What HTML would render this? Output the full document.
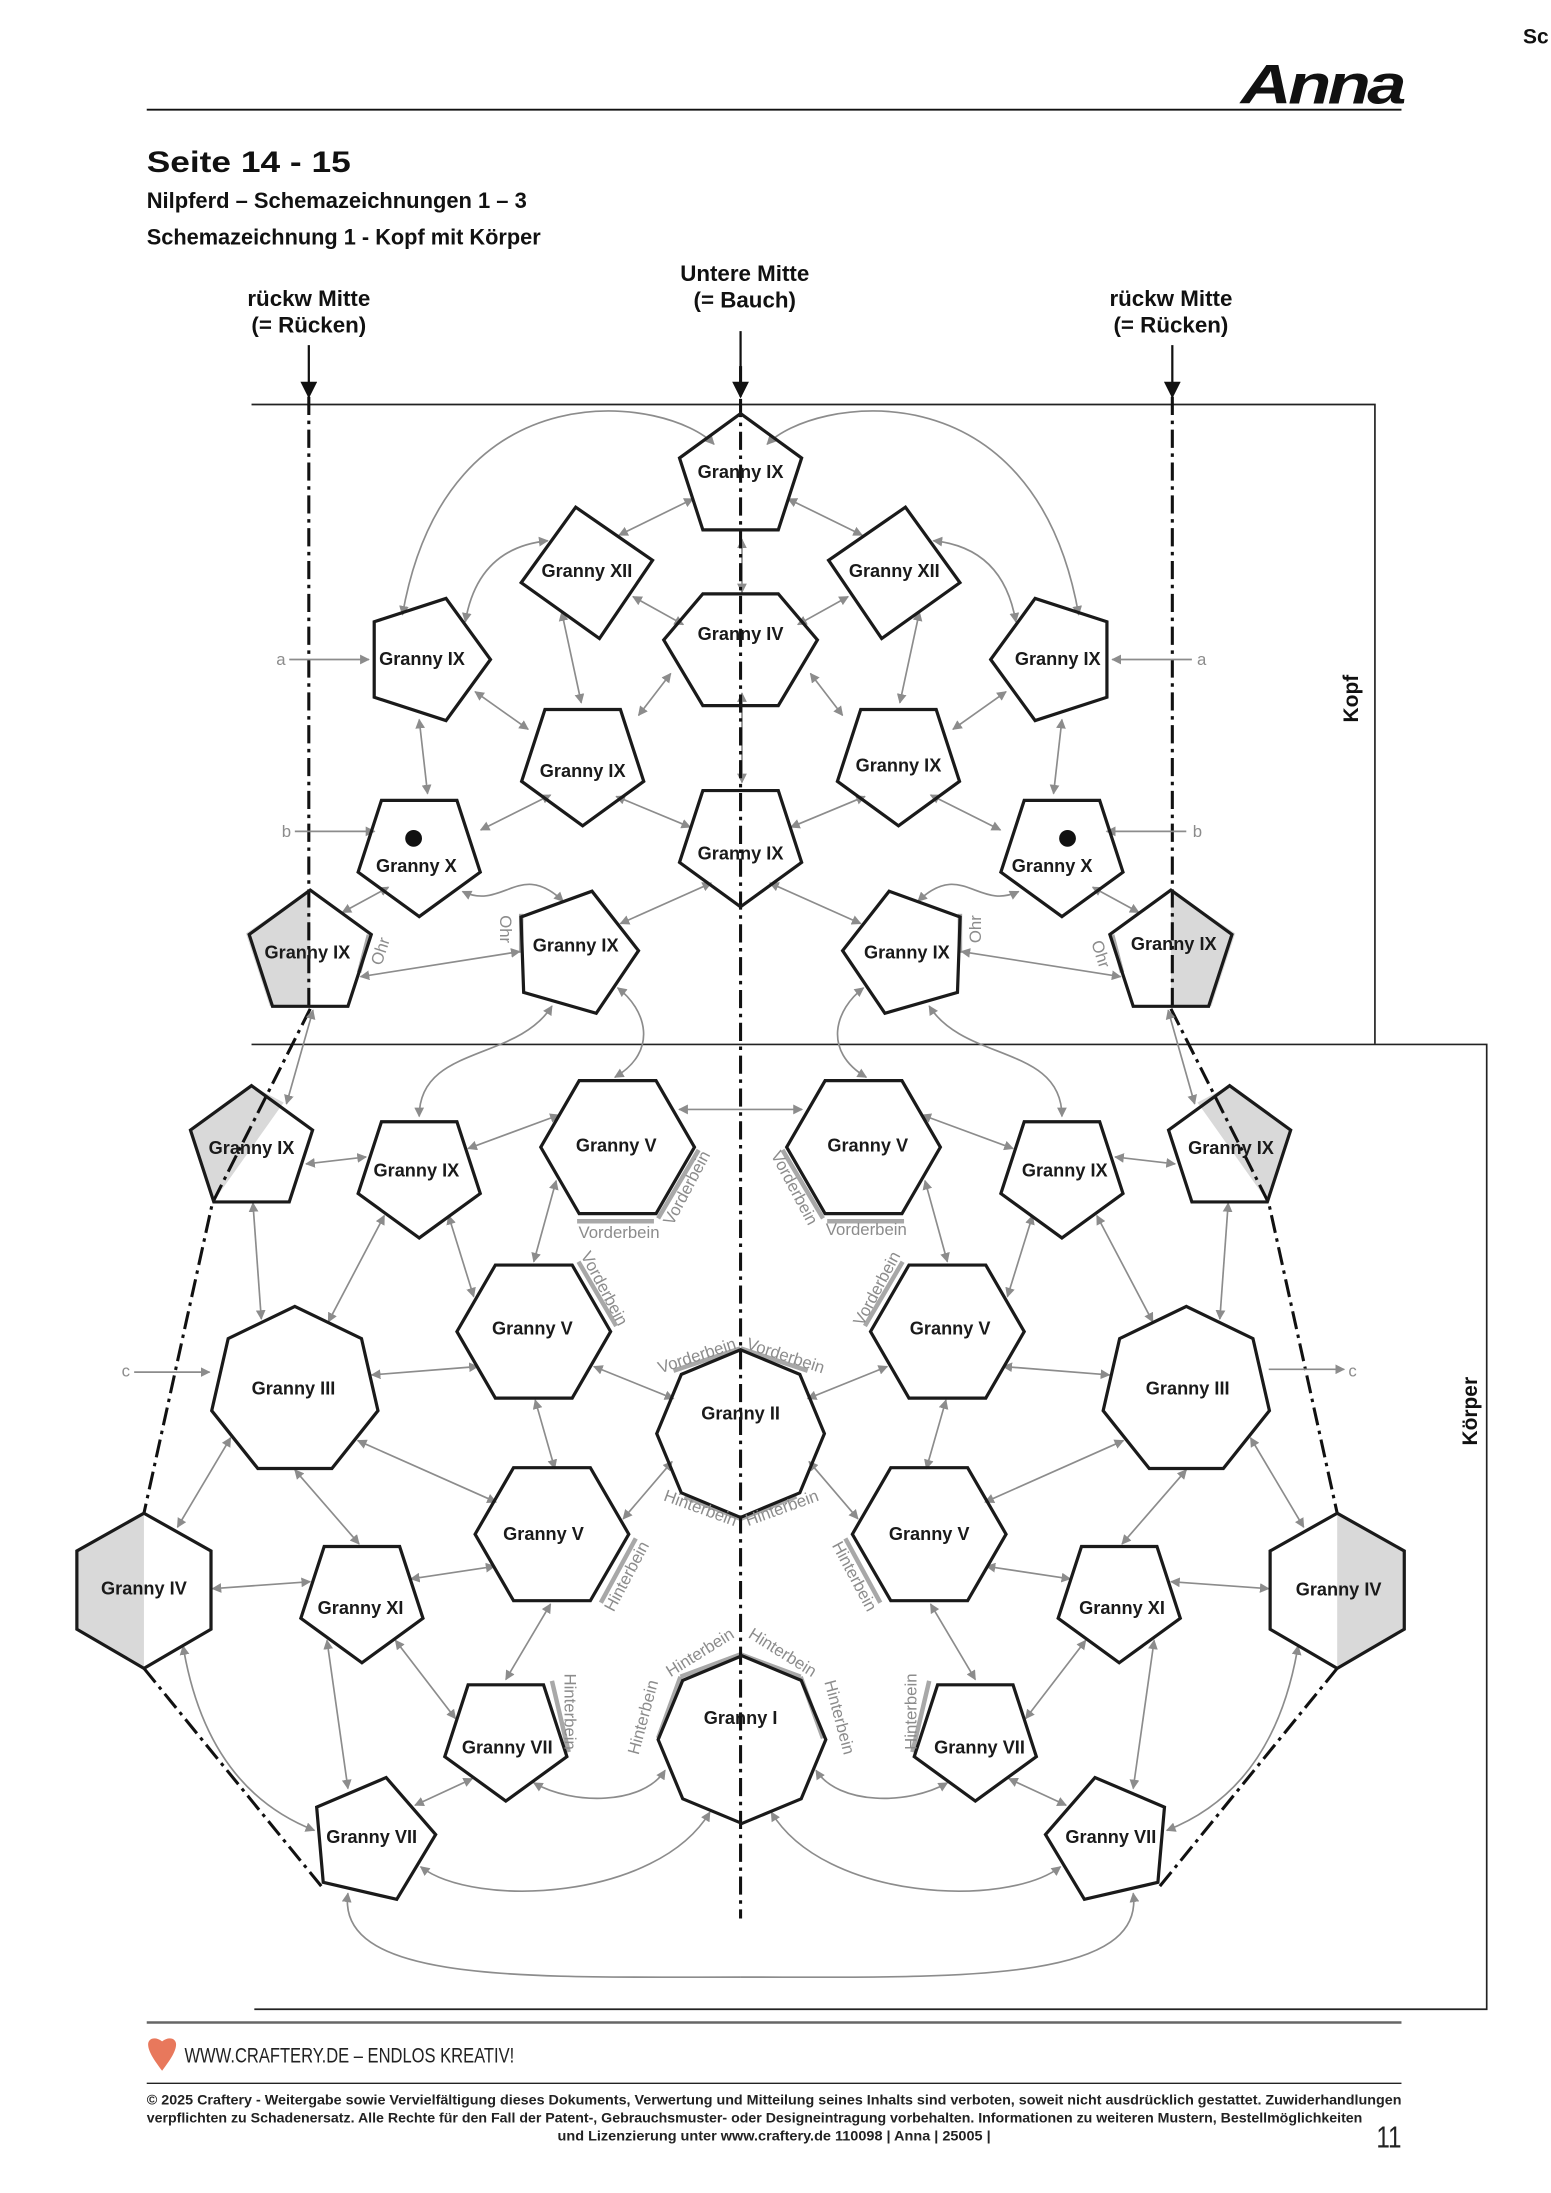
<!DOCTYPE html>
<html><head><meta charset="utf-8"><style>
html,body{margin:0;padding:0;background:#fff}
svg{display:block}
text{font-family:"Liberation Sans",sans-serif}
.lb{font-size:13px;font-weight:bold;fill:#1a1a1a;text-anchor:middle}
.gl{font-size:12px;fill:#8c8c8c;text-anchor:middle}
</style></head><body>
<svg width="1551" height="2193" viewBox="0 0 1110 1569.5" xmlns="http://www.w3.org/2000/svg">
<defs>
<marker id="ah" viewBox="0 0 10 10" refX="9" refY="5" markerWidth="7" markerHeight="7" orient="auto-start-reverse" markerUnits="userSpaceOnUse"><path d="M0,0 L10,5 L0,10 z" fill="#8c8c8c"/></marker>
<marker id="bh" viewBox="0 0 10 10" refX="9" refY="5" markerWidth="12" markerHeight="12" orient="auto" markerUnits="userSpaceOnUse"><path d="M0,0 L10,5 L0,10 z" fill="#111"/></marker>
<polygon id="p5" points="0,-46 43.7,-14.2 27,37.2 -27,37.2 -43.7,-14.2"/>
<polygon id="h6" points="55,0 27.5,47.6 -27.5,47.6 -55,0 -27.5,-47.6 27.5,-47.6"/>
<polygon id="h7" points="0,-61 47.7,-38 59.5,13.6 26.5,55 -26.5,55 -59.5,13.6 -47.7,-38"/>
<polygon id="o8" points="0,-60 42.4,-42.4 60,0 42.4,42.4 0,60 -42.4,42.4 -60,0 -42.4,-42.4"/>
</defs>

<!-- header -->
<text x="1090" y="31" font-size="15" font-weight="bold" fill="#111">Sc</text>
<text x="888" y="74" font-size="40" font-weight="bold" font-style="italic" fill="#111" textLength="116" lengthAdjust="spacingAndGlyphs" letter-spacing="-2">Anna</text>
<line x1="105" y1="78.5" x2="1003" y2="78.5" stroke="#111" stroke-width="1.3"/>
<text x="105" y="123" font-size="21" font-weight="bold" fill="#111" textLength="146" lengthAdjust="spacingAndGlyphs">Seite 14 - 15</text>
<text x="105" y="149" font-size="16" font-weight="bold" fill="#111" textLength="272" lengthAdjust="spacingAndGlyphs">Nilpferd – Schemazeichnungen 1 – 3</text>
<text x="105" y="175" font-size="16" font-weight="bold" fill="#111" textLength="282" lengthAdjust="spacingAndGlyphs">Schemazeichnung 1 - Kopf mit Körper</text>
<g font-size="16" font-weight="bold" fill="#111" text-anchor="middle">
<text x="533" y="201">Untere Mitte</text><text x="533" y="220">(= Bauch)</text>
<text x="221" y="219">rückw Mitte</text><text x="221" y="238">(= Rücken)</text>
<text x="838" y="219">rückw Mitte</text><text x="838" y="238">(= Rücken)</text>
</g>
<g stroke="#111" stroke-width="1.6" marker-end="url(#bh)">
<line x1="221" y1="247" x2="221" y2="284"/><line x1="530" y1="237" x2="530" y2="284"/><line x1="839" y1="247" x2="839" y2="284"/>
</g>

<!-- frames -->
<g stroke="#222" stroke-width="1.2" fill="none">
<polyline points="180,289.5 984,289.5 984,747"/>
<polyline points="180,747.5 1064,747.5 1064,1438 182,1438"/>
</g>
<text transform="translate(972,500) rotate(-90)" font-size="15" font-weight="bold" text-anchor="middle" fill="#111">Kopf</text>
<text transform="translate(1057,1010) rotate(-90)" font-size="15" font-weight="bold" text-anchor="middle" fill="#111">Körper</text>

<!-- left half (mirrored for right) -->
<g id="L">
 <!-- gray half fills -->
 <polygon points="222,637 222,720 193,720 176,668" fill="#d9d9d9"/>
 <polygon points="180,777 136,809 153,861 152,861 203,789" fill="#d9d9d9"/>
 <polygon points="103,1083 55,1110 55,1166 103,1194" fill="#d9d9d9"/>
 <!-- highlight edges -->
 <g stroke="#a8a8a8" stroke-width="3.2" fill="none">
  <line x1="264" y1="669" x2="257" y2="696"/>
  <line x1="373" y1="654" x2="373" y2="682"/>
  <line x1="413" y1="874" x2="468" y2="874"/>
  <line x1="471" y1="872" x2="500" y2="823"/>
  <line x1="414" y1="903" x2="441" y2="949"/>
  <line x1="482" y1="981" x2="530" y2="965"/>
  <line x1="490" y1="1071" x2="530" y2="1087"/>
  <line x1="430" y1="1147" x2="455" y2="1101"/>
  <line x1="395" y1="1203" x2="407" y2="1254"/>
  <line x1="487" y1="1200" x2="530" y2="1184"/>
  <line x1="487" y1="1200" x2="471" y2="1244"/>
 </g>
 <!-- dash-dot -->
 <g stroke="#111" stroke-width="2.2" fill="none" stroke-dasharray="13 4 2.5 4">
  <line x1="221" y1="284" x2="221" y2="722"/>
  <polyline points="222,722 152,861 103,1083"/>
  <line x1="103" y1="1194" x2="230" y2="1350"/>
 </g>
 <!-- arrows -->
 <g stroke="#8c8c8c" stroke-width="1.2" fill="none" marker-start="url(#ah)" marker-end="url(#ah)">
  <path d="M511,318 C480,285 320,258 288,440"/>
  <path d="M392,387 Q342,392 333,445"/>
  <line x1="496" y1="357" x2="443" y2="383"/>
  <line x1="453" y1="427" x2="489" y2="447"/>
  <line x1="402" y1="438" x2="416" y2="503"/>
  <line x1="340" y1="495" x2="378" y2="522"/>
  <line x1="480" y1="482" x2="457" y2="512"/>
  <line x1="441" y1="570" x2="494" y2="592"/>
  <line x1="300" y1="515" x2="306" y2="568"/>
  <line x1="344" y1="594" x2="394" y2="569"/>
  <line x1="278" y1="635" x2="245" y2="653"/>
  <path d="M331,638 C360,652 372,615 403,645"/>
  <line x1="258" y1="699" x2="372" y2="681"/>
  <line x1="509" y1="632" x2="444" y2="661"/>
  <path d="M442,707 C462,722 472,752 440,771"/>
  <path d="M395,720 C370,760 300,748 300,799"/>
  <line x1="224" y1="723" x2="205" y2="790"/>
  <line x1="219" y1="833" x2="262" y2="828"/>
  <line x1="335" y1="822" x2="400" y2="798"/>
  <line x1="181" y1="861" x2="187" y2="944"/>
  <line x1="275" y1="870" x2="235" y2="946"/>
  <line x1="321" y1="870" x2="339" y2="928"/>
  <line x1="398" y1="845" x2="382" y2="903"/>
  <line x1="266" y1="984" x2="342" y2="978"/>
  <line x1="425" y1="978" x2="482" y2="1001"/>
  <line x1="165" y1="1029" x2="127" y2="1093"/>
  <line x1="211" y1="1052" x2="257" y2="1105"/>
  <line x1="256" y1="1031" x2="355" y2="1075"/>
  <line x1="383" y1="1002" x2="397" y2="1051"/>
  <line x1="481" y1="1046" x2="446" y2="1087"/>
  <line x1="152" y1="1137" x2="222" y2="1132"/>
  <line x1="294" y1="1130" x2="354" y2="1121"/>
  <line x1="394" y1="1148" x2="362" y2="1202"/>
  <path d="M131,1178 Q148,1280 225,1310"/>
  <line x1="234" y1="1174" x2="249" y2="1280"/>
  <line x1="283" y1="1174" x2="326" y2="1230"/>
  <line x1="338" y1="1273" x2="297" y2="1292"/>
  <path d="M382,1276 C410,1292 460,1292 476,1267"/>
  <path d="M301,1336 C340,1366 470,1360 508,1297"/>
 </g>
 <path d="M249,1355 C240,1420 380,1415 530,1415" stroke="#8c8c8c" stroke-width="1.2" fill="none" marker-start="url(#ah)"/>
 <g stroke="#8c8c8c" stroke-width="1.2" marker-end="url(#ah)">
  <line x1="207" y1="472" x2="264" y2="472"/>
  <line x1="211" y1="595" x2="268" y2="595"/>
 </g>
 <!-- shapes -->
 <g fill="none" stroke="#1a1a1a" stroke-width="2.3" stroke-linejoin="miter">
  <polygon points="412,363 467,401 429,457 373,417" fill="none"/>
  <use href="#p5" transform="translate(305,472) rotate(90)"/>
  <use href="#p5" transform="translate(417,545) rotate(180)"/>
  <use href="#p5" transform="translate(300,610) rotate(180)"/>
  <use href="#p5" transform="translate(222,683)"/>
  <use href="#p5" transform="translate(411,682) rotate(88)"/>
  <use href="#p5" transform="translate(180,823)"/>
  <use href="#p5" transform="translate(300,840) rotate(180)"/>
  <use href="#h6" transform="translate(442,821)"/>
  <use href="#h6" transform="translate(382,953)"/>
  <use href="#h7" transform="translate(211,996)"/>
  <use href="#h6" transform="translate(395,1098)"/>
  <polygon points="103,1083 151,1110 151,1166 103,1194 55,1166 55,1110"/>
  <use href="#p5" transform="translate(259,1144) rotate(180)"/>
  <use href="#p5" transform="translate(362,1243) rotate(180)"/>
  <use href="#p5" transform="translate(266,1317) rotate(13)"/>
 </g>
 <circle cx="296" cy="600" r="6" fill="#111"/>
</g>
<use href="#L" transform="translate(1060,0) scale(-1,1)"/>

<!-- center elements -->
<g stroke="#8c8c8c" stroke-width="1.2" fill="none" marker-start="url(#ah)" marker-end="url(#ah)">
 <line x1="531" y1="386" x2="531" y2="424"/>
 <line x1="531" y1="496" x2="531" y2="560"/>
 <line x1="486" y1="794" x2="574" y2="794"/>
</g>
<line x1="530" y1="262" x2="530" y2="1373" stroke="#111" stroke-width="2.2" stroke-dasharray="13 4 2.5 4"/>
<g fill="none" stroke="#1a1a1a" stroke-width="2.3">
 <use href="#p5" transform="translate(530,342)"/>
 <polygon points="585,458 557,505 503,505 475,458 503,425 557,425" transform="translate(0,0)"/>
 <use href="#p5" transform="translate(530,603) rotate(180)"/>
 <use href="#o8" transform="translate(530,1026)"/>
 <use href="#o8" transform="translate(531,1245)"/>
</g>

<!-- node labels -->
<g class="lb">
 <text x="530" y="342" class="lb">Granny IX</text>
 <text x="530" y="458" class="lb">Granny IV</text>
 <text x="530" y="615" class="lb">Granny IX</text>
 <text x="530" y="1016" class="lb">Granny II</text>
 <text x="530" y="1234" class="lb">Granny I</text>
 <text x="420" y="413" class="lb">Granny XII</text><text x="640" y="413" class="lb">Granny XII</text>
 <text x="302" y="476" class="lb">Granny IX</text><text x="757" y="476" class="lb">Granny IX</text>
 <text x="417" y="556" class="lb">Granny IX</text><text x="643" y="552" class="lb">Granny IX</text>
 <text x="298" y="624" class="lb">Granny X</text><text x="753" y="624" class="lb">Granny X</text>
 <text x="220" y="686" class="lb">Granny IX</text><text x="840" y="680" class="lb">Granny IX</text>
 <text x="412" y="681" class="lb">Granny IX</text><text x="649" y="686" class="lb">Granny IX</text>
 <text x="180" y="826" class="lb">Granny IX</text><text x="881" y="826" class="lb">Granny IX</text>
 <text x="298" y="842" class="lb">Granny IX</text><text x="762" y="842" class="lb">Granny IX</text>
 <text x="441" y="824" class="lb">Granny V</text><text x="621" y="824" class="lb">Granny V</text>
 <text x="381" y="955" class="lb">Granny V</text><text x="680" y="955" class="lb">Granny V</text>
 <text x="210" y="998" class="lb">Granny III</text><text x="850" y="998" class="lb">Granny III</text>
 <text x="389" y="1102" class="lb">Granny V</text><text x="665" y="1102" class="lb">Granny V</text>
 <text x="103" y="1141" class="lb">Granny IV</text><text x="958" y="1142" class="lb">Granny IV</text>
 <text x="258" y="1155" class="lb">Granny XI</text><text x="803" y="1155" class="lb">Granny XI</text>
 <text x="363" y="1255" class="lb">Granny VII</text><text x="701" y="1255" class="lb">Granny VII</text>
 <text x="266" y="1319" class="lb">Granny VII</text><text x="795" y="1319" class="lb">Granny VII</text>
</g>

<!-- edge labels -->
<g class="gl">
 <text x="201" y="476">a</text><text x="860" y="476">a</text>
 <text x="205" y="599">b</text><text x="857" y="599">b</text>
 <text x="200" y="985" dx="-110">c</text><text x="968" y="985">c</text>
 <text transform="translate(276,682) rotate(-72)">Ohr</text>
 <text transform="translate(358,665) rotate(90)">Ohr</text>
 <text transform="translate(702,665) rotate(-90)">Ohr</text>
 <text transform="translate(784,684) rotate(72)">Ohr</text>
 <text x="443" y="886">Vorderbein</text>
 <text x="620" y="884">Vorderbein</text>
 <text transform="translate(495,852) rotate(-62)">Vorderbein</text>
 <text transform="translate(565,852) rotate(62)">Vorderbein</text>
 <text transform="translate(429,924) rotate(62)">Vorderbein</text>
 <text transform="translate(631,924) rotate(-62)">Vorderbein</text>
 <text transform="translate(500,974) rotate(-18)">Vorderbein</text>
 <text transform="translate(561,974) rotate(18)">Vorderbein</text>
 <text transform="translate(500,1083) rotate(20)">Hinterbein</text>
 <text transform="translate(561,1083) rotate(-20)">Hinterbein</text>
 <text transform="translate(452,1130) rotate(-62)">Hinterbein</text>
 <text transform="translate(608,1130) rotate(62)">Hinterbein</text>
 <text transform="translate(404,1225) rotate(90)">Hinterbein</text>
 <text transform="translate(656,1225) rotate(-90)">Hinterbein</text>
 <text transform="translate(503,1186) rotate(-32)">Hinterbein</text>
 <text transform="translate(558,1186) rotate(32)">Hinterbein</text>
 <text transform="translate(464,1230) rotate(-75)">Hinterbein</text>
 <text transform="translate(597,1230) rotate(75)">Hinterbein</text>
</g>
<g stroke="#8c8c8c" stroke-width="1.2" marker-end="url(#ah)">
 <line x1="96" y1="982" x2="150" y2="982"/>
 <line x1="908" y1="980" x2="962" y2="980"/>
</g>

<!-- footer -->
<line x1="105" y1="1447.5" x2="1003" y2="1447.5" stroke="#666" stroke-width="1.8"/>
<path d="M116,1482 C110,1474 106,1468 106,1463 C106,1459 111,1457 116,1461 C121,1457 126,1459 126,1463 C126,1468 122,1474 116,1482 z" fill="#e8785c"/>
<text x="132" y="1476" font-size="15" fill="#222" textLength="236" lengthAdjust="spacingAndGlyphs" font-family="Liberation Sans Narrow, Liberation Sans, sans-serif">WWW.CRAFTERY.DE – ENDLOS KREATIV!</text>
<line x1="105" y1="1491" x2="1003" y2="1491" stroke="#222" stroke-width="1"/>
<g font-size="10" font-weight="bold" fill="#222">
<text x="105" y="1506" textLength="898" lengthAdjust="spacingAndGlyphs">© 2025 Craftery - Weitergabe sowie Vervielfältigung dieses Dokuments, Verwertung und Mitteilung seines Inhalts sind verboten, soweit nicht ausdrücklich gestattet. Zuwiderhandlungen</text>
<text x="105" y="1519" textLength="870" lengthAdjust="spacingAndGlyphs">verpflichten zu Schadenersatz. Alle Rechte für den Fall der Patent-, Gebrauchsmuster- oder Designeintragung vorbehalten. Informationen zu weiteren Mustern, Bestellmöglichkeiten</text>
<text x="399" y="1532" textLength="310" lengthAdjust="spacingAndGlyphs">und Lizenzierung unter www.craftery.de  110098 | Anna | 25005 |</text>
</g>
<text x="985" y="1537" font-size="22" fill="#222" textLength="18" lengthAdjust="spacingAndGlyphs">11</text>
</svg>
</body></html>
